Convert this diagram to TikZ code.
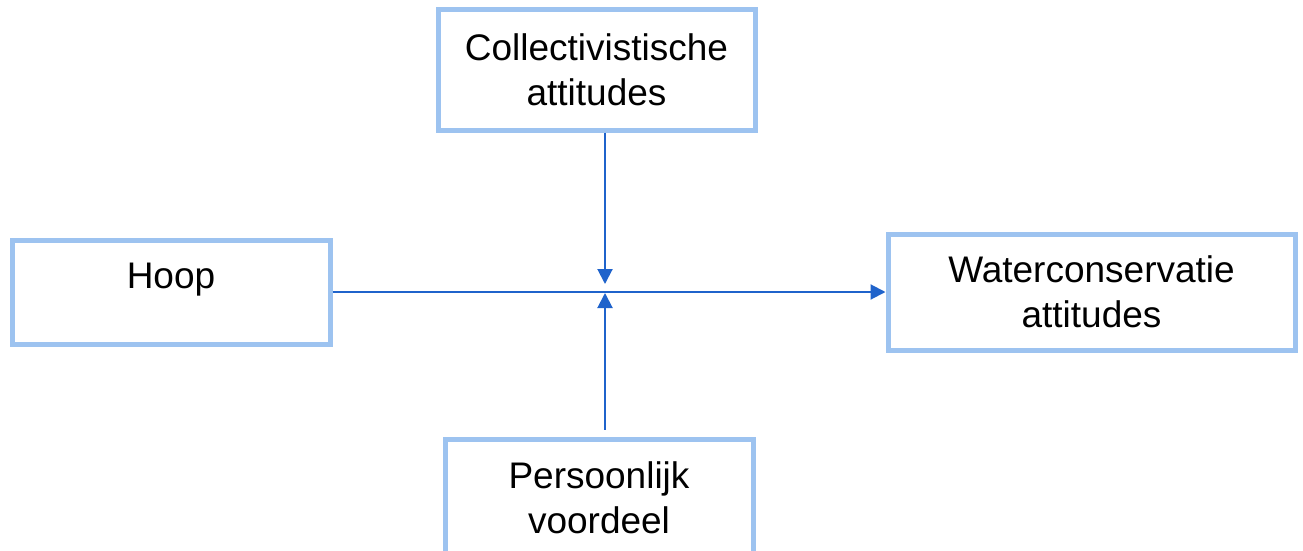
\documentclass[tikz,border=0pt]{standalone}
\usepackage{fontspec}
\setmainfont{Liberation Sans}
\usetikzlibrary{arrows.meta}
\definecolor{boxblue}{HTML}{9DC3F0}
\definecolor{arrblue}{HTML}{1F63CB}
\begin{document}
\begin{tikzpicture}[x=1pt,y=-1pt,
  varbox/.style={draw=boxblue, line width=5pt, rectangle, inner sep=2pt, align=center,
    font=\fontsize{37}{45}\selectfont, text=black},
  conn/.style={draw=arrblue, line width=2pt, -{Triangle[length=15pt,width=15pt]}}]
\useasboundingbox (0,0) rectangle (1303,551);
\clip (0,0) rectangle (1303,551);
\node[varbox, minimum width=317pt, minimum height=120pt] (coll) at (596.5,70) {Collectivistische\\attitudes};
\node[varbox, minimum width=318pt, minimum height=104pt, text height=27pt, text depth=35pt] (hoop) at (171,292) {Hoop};
\node[varbox, minimum width=407pt, minimum height=116pt] (water) at (1091.5,292) {Waterconservatie\\attitudes};
\node[varbox, minimum width=308pt, minimum height=118pt] (pers) at (599,498) {Persoonlijk\\voordeel};
\coordinate (m) at (605,292);
\draw[conn] (hoop.east) -- (water.west);
\draw[conn, shorten >=8pt] (coll.south -| m) -- (m);
\draw[conn, shorten <=7pt, shorten >=1pt] (pers.north -| m) -- (m);
\end{tikzpicture}
\end{document}
